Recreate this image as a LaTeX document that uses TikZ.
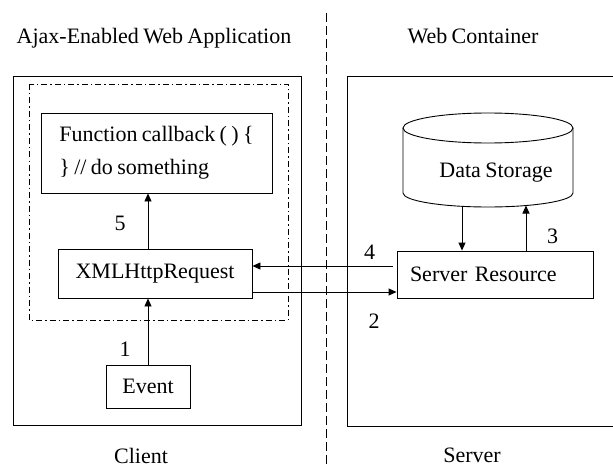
\documentclass[tikz,border=0pt]{standalone}
\usepackage{fontspec}
\setmainfont{Liberation Serif}[WordSpace=0.8]
\usetikzlibrary{arrows.meta}
\begin{document}
\begin{tikzpicture}[x=1pt,y=-1pt,
  every node/.style={font=\fontsize{22}{33}\selectfont},
  box/.style={draw, line width=0.9pt, inner sep=0pt},
  frame/.style={draw, line width=0.9pt},
  dashdot/.style={draw, line width=0.9pt, dash pattern=on 6pt off 3pt on 1.5pt off 3pt},
  divider/.style={draw, line width=0.9pt, dash pattern=on 9pt off 4pt},
  arr/.style={line width=0.9pt, -{Triangle[length=8pt,width=7pt]}},
  lbl/.style={anchor=base, inner sep=0pt}]
\useasboundingbox (0,0) rectangle (613,468);
% titles
\node[lbl] (t1) at (154,44) {Ajax-Enabled Web Application};
\node[lbl] (t2) at (473,44) {Web Container};
\node[lbl] (client) at (141,463) {Client};
\node[lbl] (server) at (472,462) {Server};
% divider
\draw[divider] (326,13) -- (326,470);
% containers
\draw[frame] (13,76) rectangle (301,425);
\draw[dashdot] (29,84) rectangle (288,320);
\draw[frame] (616,76) -- (347,76) -- (347,426) -- (616,426);
% client nodes
\node[box, minimum width=231pt, minimum height=80pt, align=left] (func) at (156.5,153)
  {Function callback ( ) \{\\\} // do something};
\node[box, minimum width=194pt, minimum height=49pt] (xml) at (155,273.5) {XMLHttpRequest};
\node[box, minimum width=84pt, minimum height=43pt] (event) at (148,386.5) {Event};
% server nodes
\node[box, minimum width=196pt, minimum height=47pt, text width=170pt, inner xsep=13pt, align=left] (srv) at (495,274.5) {Server Resource};
% cylinder
\draw[line width=0.9pt] (488,128) ellipse [x radius=85, y radius=15];
\draw[line width=0.9pt] (403,128) -- (403,193) arc[start angle=180, end angle=0, x radius=85, y radius=14] -- (573,128);
\node[lbl] (ds) at (496,178) {Data Storage};
\coordinate (dsout) at (462,206.5);
\coordinate (dsin) at (526,205.5);
% connectors
\draw[arr] (event.north) -- (xml.south -| event.north);
\draw[arr] (xml.north -| event.north) -- (func.south -| event.north);
\coordinate (c4) at (393,266);
\coordinate (c2) at (252,292);
\draw[arr] (c4) -- (xml.east |- c4);
\draw[arr] (c2) -- (srv.west |- c2);
\draw[arr] (dsout) -- (srv.north -| dsout);
\draw[arr] (srv.north -| dsin) -- (dsin);
% labels
\node[lbl] (l5) at (120,230) {5};
\node[lbl] (l1) at (125,356) {1};
\node[lbl] (l4) at (369.5,259) {4};
\node[lbl] (l2) at (374,328) {2};
\node[lbl] (l3) at (552.5,243) {3};
\end{tikzpicture}
\end{document}
